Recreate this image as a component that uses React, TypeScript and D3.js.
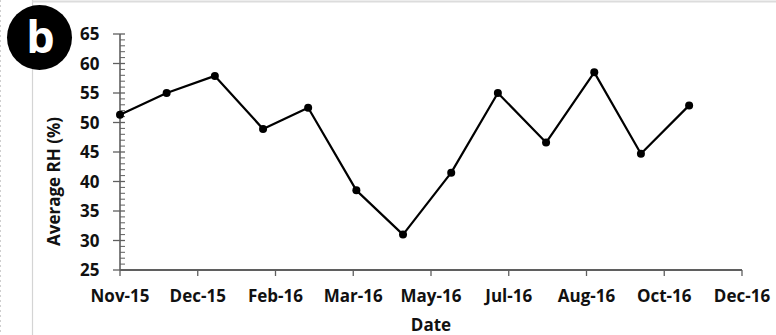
import React from "react";
import * as d3 from "d3";

const dates: string[] = [
  "2015-11-01", "2015-12-01", "2016-01-01", "2016-02-01", "2016-03-01",
  "2016-04-01", "2016-05-01", "2016-06-01", "2016-07-01", "2016-08-01",
  "2016-09-01", "2016-10-01", "2016-11-01",
];
const rhValues: number[] = [51.3, 55.0, 57.9, 48.9, 52.5, 38.5, 31.0, 41.5, 55.0, 46.6, 58.5, 44.7, 52.9];
const yTicks: number[] = [25, 30, 35, 40, 45, 50, 55, 60, 65];
const xAxisStart = "2015-11-01";
const xTickStepDays = 50;
const xTickCount = 9;

const W = 776;
const H = 335;
const FONT = "'Open Sans', 'Liberation Sans', sans-serif";

export default function App() {
  const parse = d3.utcParse("%Y-%m-%d");
  const start = parse(xAxisStart) as Date;
  const xTickDates = d3.range(xTickCount).map((i) => d3.utcDay.offset(start, i * xTickStepDays));
  const end = xTickDates[xTickDates.length - 1];
  const x = d3.scaleUtc().domain([start, end]).range([120, 742]);
  const y = d3.scaleLinear().domain([25, 65]).range([270, 34]);
  const fmt = d3.utcFormat("%b-%y");
  const pts = dates.map((d, i) => ({ d: parse(d) as Date, v: rhValues[i] }));
  const line = d3
    .line<{ d: Date; v: number }>()
    .x((p) => x(p.d))
    .y((p) => y(p.v));
  const minor = d3.range(25, 66, 1).filter((v) => v % 5 !== 0);
  const axisColor = "#5f5f5f";
  const fs = 17;

  return (
    <svg
      width={W}
      height={H}
      style={{ position: "absolute", left: 0, top: 0, background: "#fff" }}
      fontFamily={FONT}
    >
      {/* frame */}
      <line x1={0.5} y1={0} x2={0.5} y2={H} stroke="#cfcfcf" strokeWidth={1} strokeDasharray="2,3" />
      <line x1={32.5} y1={0} x2={32.5} y2={H} stroke="#d4d4d4" strokeWidth={1.2} />
      <line x1={32} y1={1.5} x2={W} y2={1.5} stroke="#dcdcdc" strokeWidth={2} />

      {/* badge */}
      <circle cx={39.5} cy={37.5} r={32.5} fill="#000" />
      <text x={40.5} y={52.5} textAnchor="middle" fill="#fff" fontSize={45} fontWeight={700} fontFamily={FONT}>
        b
      </text>

      {/* y axis */}
      <line x1={120} y1={y(65)} x2={120} y2={y(25)} stroke={axisColor} strokeWidth={1.6} />
      {minor.map((v) => (
        <line key={"m" + v} x1={120} x2={125} y1={y(v)} y2={y(v)} stroke={axisColor} strokeWidth={1} />
      ))}
      {yTicks.map((v) => (
        <g key={"y" + v}>
          <line x1={113} x2={125} y1={y(v)} y2={y(v)} stroke={axisColor} strokeWidth={1.3} />
          <text x={99.5} y={y(v) + 6} textAnchor="end" fontSize={fs} fontWeight={700} fill="#111">
            {v}
          </text>
        </g>
      ))}

      {/* x axis */}
      <line x1={120} y1={270} x2={742} y2={270} stroke={axisColor} strokeWidth={1.8} />
      {xTickDates.map((d, i) => (
        <g key={"x" + i}>
          <line x1={x(d)} x2={x(d)} y1={270} y2={276} stroke={axisColor} strokeWidth={1.3} />
          <text x={x(d)} y={302} textAnchor="middle" fontSize={fs} fontWeight={700} fill="#111">
            {fmt(d)}
          </text>
        </g>
      ))}

      {/* titles */}
      <text x={431} y={331} textAnchor="middle" fontSize={fs} fontWeight={700} fill="#111">
        Date
      </text>
      <text
        transform="translate(60,181.5) rotate(-90)"
        textAnchor="middle"
        fontSize={fs}
        fontWeight={700}
        fill="#111"
      >
        Average RH (%)
      </text>

      {/* series */}
      <path d={line(pts) || ""} fill="none" stroke="#000" strokeWidth={2.2} strokeLinejoin="round" />
      {pts.map((p, i) => (
        <circle key={"p" + i} cx={x(p.d)} cy={y(p.v)} r={4} fill="#000" />
      ))}
    </svg>
  );
}
